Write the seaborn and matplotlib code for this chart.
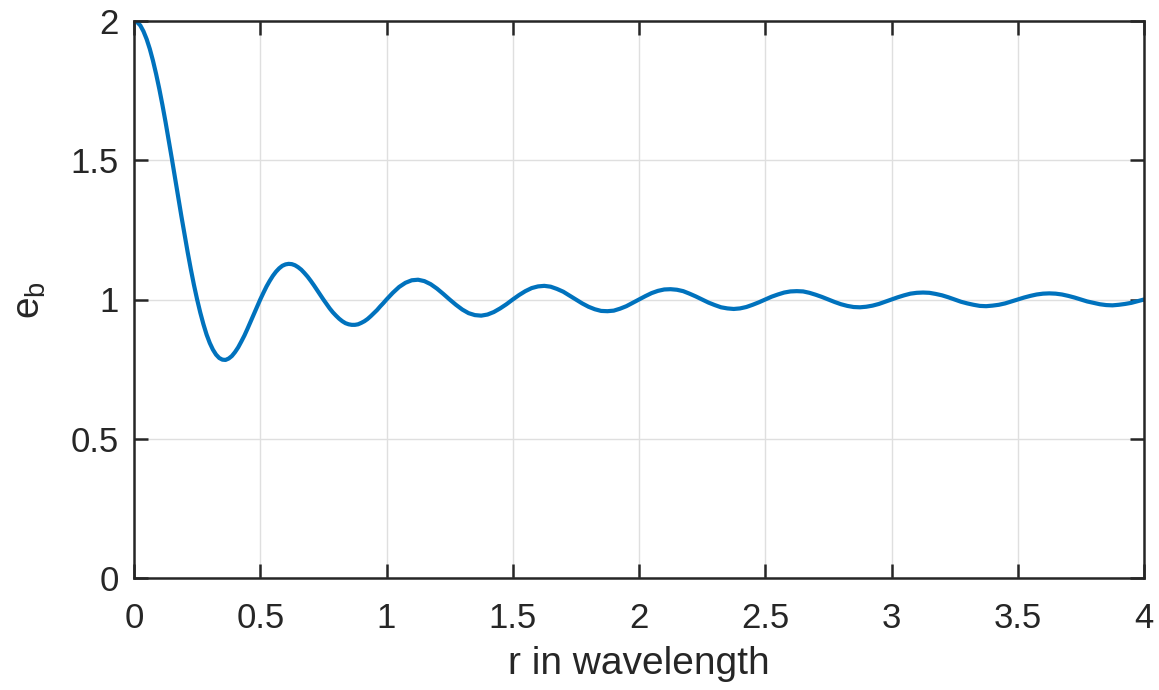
import numpy as np
import pandas as pd
import matplotlib
matplotlib.use("Agg")
import matplotlib.pyplot as plt
import seaborn as sns

# r in wavelength: every 0.0125 up to 1.0, then every 0.025 up to 4.0
r_values = [round(0.0125 * i, 4) for i in range(80)] + [round(1.0 + 0.025 * i, 3) for i in range(121)]
eb_values = [
    # 0 .. 0.9875 (step 0.0125)
    2.000, 1.996, 1.984, 1.963, 1.935, 1.900, 1.858, 1.810, 1.757, 1.699,
    1.637, 1.572, 1.505, 1.436, 1.368, 1.300, 1.234, 1.170, 1.109, 1.052,
    1.000, 0.953, 0.911, 0.874, 0.844, 0.820, 0.802, 0.790, 0.784, 0.783,
    0.788, 0.797, 0.811, 0.828, 0.849, 0.871, 0.896, 0.922, 0.948, 0.974,
    1.000, 1.024, 1.047, 1.067, 1.085, 1.100, 1.112, 1.121, 1.126, 1.128,
    1.127, 1.123, 1.116, 1.107, 1.095, 1.082, 1.067, 1.051, 1.034, 1.017,
    1.000, 0.984, 0.968, 0.954, 0.942, 0.931, 0.922, 0.915, 0.911, 0.909,
    0.909, 0.911, 0.916, 0.922, 0.930, 0.940, 0.951, 0.962, 0.975, 0.987,
    # 1.0 .. 4.0 (step 0.025)
    1.000, 1.024, 1.045, 1.060, 1.069, 1.071, 1.066, 1.055, 1.039, 1.020,
    1.000, 0.981, 0.964, 0.951, 0.944, 0.942, 0.946, 0.955, 0.968, 0.983,
    1.000, 1.016, 1.030, 1.041, 1.047, 1.049, 1.046, 1.038, 1.028, 1.014,
    1.000, 0.986, 0.974, 0.965, 0.959, 0.958, 0.960, 0.967, 0.976, 0.988,
    1.000, 1.012, 1.023, 1.031, 1.036, 1.037, 1.035, 1.030, 1.021, 1.011,
    1.000, 0.989, 0.980, 0.972, 0.968, 0.966, 0.968, 0.973, 0.981, 0.990,
    1.000, 1.010, 1.018, 1.025, 1.029, 1.030, 1.029, 1.024, 1.017, 1.009,
    1.000, 0.991, 0.983, 0.977, 0.973, 0.972, 0.974, 0.978, 0.984, 0.992,
    1.000, 1.008, 1.015, 1.021, 1.024, 1.025, 1.024, 1.020, 1.015, 1.008,
    1.000, 0.992, 0.986, 0.981, 0.977, 0.976, 0.978, 0.981, 0.986, 0.993,
    1.000, 1.007, 1.013, 1.018, 1.021, 1.022, 1.021, 1.018, 1.013, 1.007,
    1.000, 0.993, 0.988, 0.983, 0.980, 0.979, 0.981, 0.984, 0.988, 0.994,
    1.000,
]
x_ticks = [0, 0.5, 1, 1.5, 2, 2.5, 3, 3.5, 4]
x_tick_labels = ["0", "0.5", "1", "1.5", "2", "2.5", "3", "3.5", "4"]
y_ticks = [0, 0.5, 1, 1.5, 2]
y_tick_labels = ["0", "0.5", "1", "1.5", "2"]

sns.set_theme(style="white")
plt.rcParams["font.family"] = ["Liberation Sans", "DejaVu Sans"]
plt.rcParams["mathtext.fontset"] = "custom"
plt.rcParams["mathtext.rm"] = "Liberation Sans"
plt.rcParams["mathtext.it"] = "Liberation Sans"

df = pd.DataFrame({"r": r_values, "eb": eb_values})

fig = plt.figure(figsize=(11.59, 6.90), dpi=100)
ax = fig.add_axes([134 / 1159, 1 - 578 / 690, (1144 - 134) / 1159, (578 - 21) / 690])

sns.lineplot(data=df, x="r", y="eb", ax=ax, color="#0072BD", linewidth=3.0,
             estimator=None, sort=False)

ax.set_xlim(0, 4)
ax.set_ylim(0, 2)
ax.set_xticks(x_ticks)
ax.set_xticklabels(x_tick_labels)
ax.set_yticks(y_ticks)
ax.set_yticklabels(y_tick_labels)

text_color = "#262626"
ax.grid(True, color="#dfdfdf", linewidth=1.0)
ax.set_axisbelow(True)
for s in ax.spines.values():
    s.set_visible(True)
    s.set_color(text_color)
    s.set_linewidth(1.8)
ax.tick_params(axis="both", which="both", direction="in", length=10, width=1.8,
               colors=text_color, labelsize=25, top=True, right=True,
               bottom=True, left=True, pad=11)
ax.tick_params(axis="x", pad=17)

ax.set_xlabel("r in wavelength", fontsize=28, color=text_color, labelpad=8)
ax.set_ylabel(r"$\mathrm{e_b}$", fontsize=28, color=text_color, labelpad=16)

fig.savefig("out.png", dpi=100)
